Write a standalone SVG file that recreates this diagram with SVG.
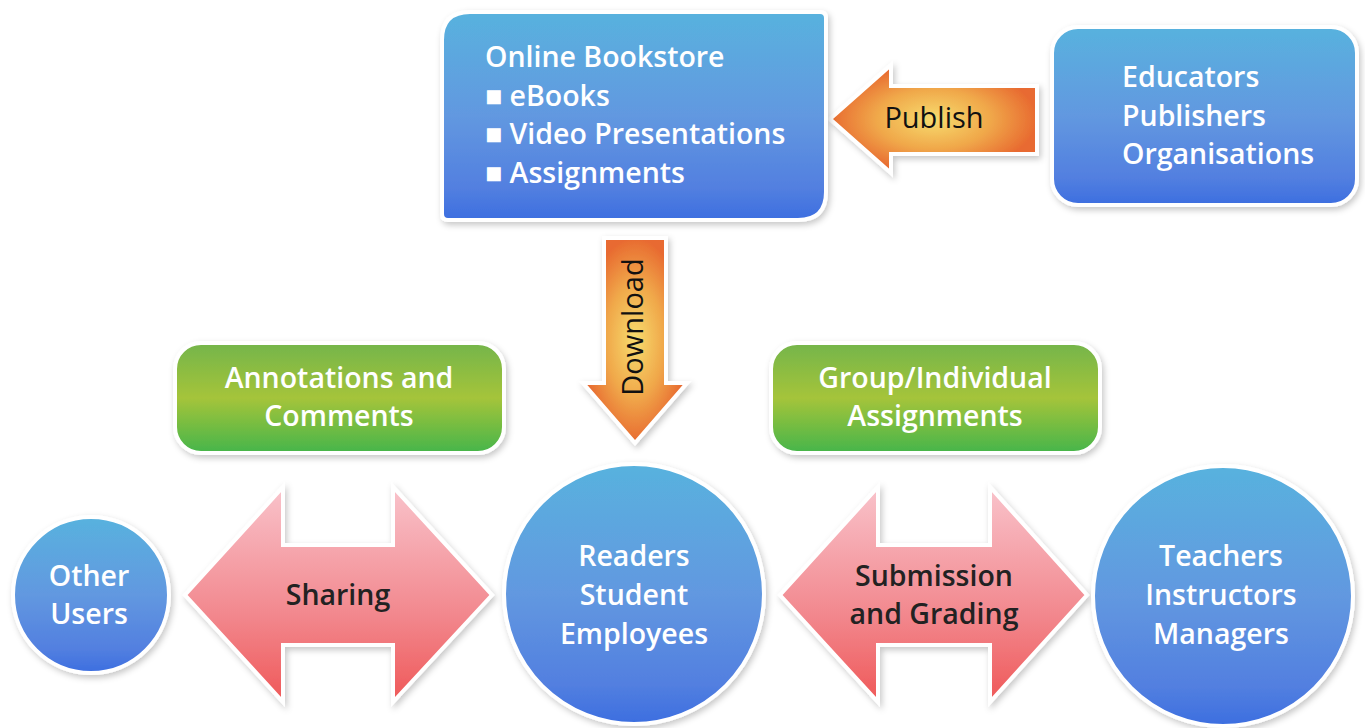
<svg xmlns="http://www.w3.org/2000/svg" width="1365" height="728" viewBox="0 0 1365 728">
<defs>
<linearGradient id="blue" x1="0" y1="0" x2="0" y2="1">
<stop offset="0" stop-color="#58b2de"/>
<stop offset="0.5" stop-color="#6298e0"/>
<stop offset="0.85" stop-color="#527fe0"/>
<stop offset="1" stop-color="#3c6ee0"/>
</linearGradient>
<linearGradient id="green" x1="0" y1="0" x2="0" y2="1">
<stop offset="0" stop-color="#74b54a"/>
<stop offset="0.5" stop-color="#a5c43a"/>
<stop offset="1" stop-color="#45b54a"/>
</linearGradient>
<linearGradient id="pink" x1="0" y1="0" x2="0" y2="1">
<stop offset="0" stop-color="#f9c3cb"/>
<stop offset="0.6" stop-color="#f2878d"/>
<stop offset="1" stop-color="#ef5858"/>
</linearGradient>
<radialGradient id="orange" cx="0.5" cy="0.5" r="0.5">
<stop offset="0" stop-color="#f7dc6e"/>
<stop offset="0.55" stop-color="#f0a84a"/>
<stop offset="1" stop-color="#e86a30"/>
</radialGradient>
<filter id="sh" x="-10%" y="-10%" width="120%" height="125%">
<feDropShadow dx="2" dy="3" stdDeviation="3" flood-color="#000" flood-opacity="0.22"/>
</filter>
<style>
.node{stroke:#fff;stroke-width:4;filter:url(#sh)}
.arrow{stroke:#fff;stroke-width:4;stroke-linejoin:miter;filter:url(#sh)}
.wt{font-family:"Open Sans","Liberation Sans",sans-serif;font-weight:600;font-size:28.5px;fill:#fff}
.dk{font-family:"Open Sans","Liberation Sans",sans-serif;font-weight:600;font-size:28.5px;fill:#222}
.rg{font-family:"Open Sans","Liberation Sans",sans-serif;font-weight:400;font-size:29px;fill:#111}
</style>
</defs>
<rect width="1365" height="728" fill="#fff"/>

<g id="connectors">
<g id="publish">
<polygon class="arrow" fill="url(#orange)" points="830,119 891,65 891,86 1037,86 1037,154 891,154 891,173"/>
<text class="rg" x="934" y="128" text-anchor="middle">Publish</text>
</g>
<g id="download">
<polygon class="arrow" fill="url(#orange)" points="604,238 666,238 666,383 687,383 635,443 583,383 604,383"/>
<text class="rg" transform="translate(643,327) rotate(-90)" text-anchor="middle">Download</text>
</g>
<g id="sharing">
<polygon class="arrow" fill="url(#pink)" points="185,595 283,487 283,545 393,545 393,487 492,595 393,702 393,645 283,645 283,702"/>
<text class="dk" x="338" y="605" text-anchor="middle">Sharing</text>
</g>
<g id="submission">
<polygon class="arrow" fill="url(#pink)" points="780,595 878,487 878,545 990,545 990,487 1087,595 990,702 990,645 878,645 878,702"/>
<text class="dk" x="934" y="586" text-anchor="middle">Submission</text>
<text class="dk" x="934" y="624" text-anchor="middle">and Grading</text>
</g>
</g>

<g id="bookstore">
<path class="node" fill="url(#blue)" d="M470 12 H820 Q826 12 826 18 V192 Q826 220 798 220 H448 Q442 220 442 214 V40 Q442 12 470 12 Z"/>
<text class="wt" x="485" y="67">Online Bookstore</text>
<text class="wt" x="485" y="106">■ eBooks</text>
<text class="wt" x="485" y="144">■ Video Presentations</text>
<text class="wt" x="485" y="183">■ Assignments</text>
</g>

<g id="educators">
<rect class="node" fill="url(#blue)" x="1052" y="27" width="305" height="178" rx="26"/>
<text class="wt" x="1122" y="87">Educators</text>
<text class="wt" x="1122" y="126">Publishers</text>
<text class="wt" x="1122" y="164">Organisations</text>
</g>

<g id="annotations">
<rect class="node" fill="url(#green)" x="175" y="343" width="329" height="110" rx="26"/>
<text class="wt" x="339" y="388" text-anchor="middle">Annotations and</text>
<text class="wt" x="339" y="426" text-anchor="middle">Comments</text>
</g>

<g id="group-assignments">
<rect class="node" fill="url(#green)" x="771" y="343" width="329" height="110" rx="26"/>
<text class="wt" x="935" y="388" text-anchor="middle">Group/Individual</text>
<text class="wt" x="935" y="426" text-anchor="middle">Assignments</text>
</g>

<g id="other-users">
<circle class="node" fill="url(#blue)" cx="91" cy="595" r="78"/>
<text class="wt" x="89" y="586" text-anchor="middle">Other</text>
<text class="wt" x="89" y="624" text-anchor="middle">Users</text>
</g>

<g id="readers">
<circle class="node" fill="url(#blue)" cx="634" cy="594" r="130"/>
<text class="wt" x="634" y="566" text-anchor="middle">Readers</text>
<text class="wt" x="634" y="605" text-anchor="middle">Student</text>
<text class="wt" x="634" y="644" text-anchor="middle">Employees</text>
</g>

<g id="teachers">
<circle class="node" fill="url(#blue)" cx="1223" cy="596" r="130"/>
<text class="wt" x="1221" y="566" text-anchor="middle">Teachers</text>
<text class="wt" x="1221" y="605" text-anchor="middle">Instructors</text>
<text class="wt" x="1221" y="644" text-anchor="middle">Managers</text>
</g>
</svg>
